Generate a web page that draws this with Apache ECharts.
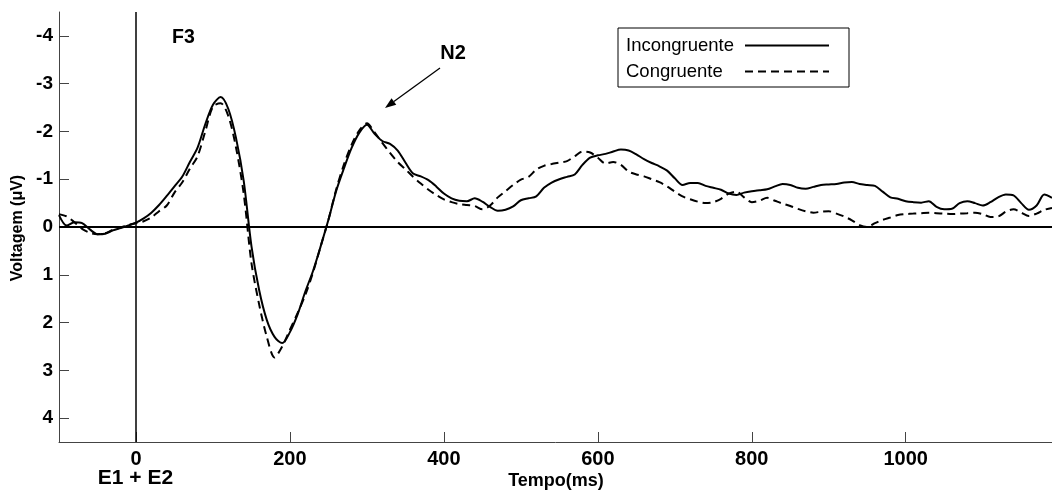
<!DOCTYPE html>
<html>
<head>
<meta charset="utf-8">
<script src="https://cdn.jsdelivr.net/npm/echarts@6/dist/echarts.min.js"></script>
<style>html,body{margin:0;padding:0;background:#fff;}#chart{width:1052px;height:495px;}</style>
</head>
<body>
<div id="chart"></div>
<script>
// Time axis (ms), sampled every 10 ms
const startMs = -100;
const stepMs = 10;
// Incongruente (solid), µV
const incongruente = [
 -0.25,-0.03,-0.10,-0.08,0.05,0.15,0.14,0.07,0.02,-0.03,
 -0.09,-0.18,-0.30,-0.46,-0.65,-0.85,-1.05,-1.36,-1.66,-2.15,
 -2.56,-2.72,-2.47,-1.86,-0.96,0.40,1.32,1.95,2.30,2.43,
 2.20,1.83,1.35,0.92,0.40,-0.15,-0.75,-1.22,-1.65,-1.97,
 -2.14,-1.95,-1.80,-1.74,-1.60,-1.35,-1.12,-1.06,-0.98,-0.85,
 -0.70,-0.60,-0.55,-0.54,-0.60,-0.53,-0.42,-0.34,-0.36,-0.43,
 -0.56,-0.60,-0.64,-0.82,-0.93,-1.00,-1.05,-1.10,-1.30,-1.45,
 -1.50,-1.53,-1.58,-1.62,-1.60,-1.52,-1.42,-1.34,-1.27,-1.18,
 -1.02,-0.88,-0.92,-0.92,-0.86,-0.82,-0.78,-0.70,-0.67,-0.72,
 -0.75,-0.77,-0.79,-0.85,-0.90,-0.88,-0.82,-0.80,-0.84,-0.88,
 -0.89,-0.90,-0.93,-0.94,-0.90,-0.88,-0.86,-0.74,-0.62,-0.59,
 -0.54,-0.52,-0.51,-0.54,-0.42,-0.37,-0.38,-0.50,-0.54,-0.50,
 -0.45,-0.52,-0.62,-0.68,-0.66,-0.50,-0.36,-0.45,-0.68,-0.61
];
// Congruente (dashed), µV
const congruente = [
 -0.27,-0.22,-0.10,0.04,0.12,0.15,0.13,0.06,0.01,-0.04,
 -0.08,-0.12,-0.20,-0.33,-0.45,-0.72,-0.93,-1.22,-1.48,-2.00,
 -2.52,-2.59,-2.32,-1.66,-0.69,0.75,1.62,2.30,2.73,2.50,
 2.15,1.80,1.42,0.95,0.40,-0.15,-0.78,-1.30,-1.72,-2.02,
 -2.17,-1.98,-1.76,-1.55,-1.36,-1.21,-1.05,-0.91,-0.78,-0.67,
 -0.58,-0.52,-0.48,-0.46,-0.44,-0.37,-0.45,-0.62,-0.75,-0.88,
 -0.99,-1.05,-1.20,-1.28,-1.32,-1.35,-1.38,-1.48,-1.58,-1.56,
 -1.45,-1.33,-1.36,-1.30,-1.16,-1.10,-1.06,-1.00,-0.94,-0.85,
 -0.74,-0.64,-0.58,-0.53,-0.50,-0.52,-0.59,-0.70,-0.74,-0.62,
 -0.52,-0.55,-0.61,-0.55,-0.49,-0.44,-0.38,-0.33,-0.30,-0.32,
 -0.33,-0.28,-0.22,-0.14,-0.04,0.00,-0.08,-0.15,-0.20,-0.25,
 -0.27,-0.28,-0.29,-0.30,-0.29,-0.28,-0.27,-0.28,-0.29,-0.30,
 -0.27,-0.21,-0.22,-0.32,-0.37,-0.30,-0.23,-0.28,-0.36,-0.40
];
const xTicks = [0, 200, 400, 600, 800, 1000];
const yTicks = [-4, -3, -2, -1, 0, 1, 2, 3, 4];
const seriesNames = ['Incongruente', 'Congruente'];

const toPairs = arr => arr.map((v, i) => [startMs + i * stepMs, v]);
const FONT = '"Liberation Sans", Arial, sans-serif';

const chart = echarts.init(document.getElementById('chart'), null, {renderer: 'canvas'});
const arrowTip = [385, 108], arrowTail = [440, 68];
const dx = arrowTip[0] - arrowTail[0], dy = arrowTip[1] - arrowTail[1];
const len = Math.hypot(dx, dy), ux = dx / len, uy = dy / len;
const hb = [arrowTip[0] - 11 * ux, arrowTip[1] - 11 * uy];
const head = [arrowTip, [hb[0] - 4 * uy, hb[1] + 4 * ux], [hb[0] + 4 * uy, hb[1] - 4 * ux]];

chart.setOption({
  animation: false,
  backgroundColor: '#fff',
  grid: {left: 59, right: 0, top: 12, bottom: 53, containLabel: false},
  legend: {
    left: 618, top: 28, orient: 'vertical', align: 'right',
    itemWidth: 84, itemHeight: 16, itemGap: 7,
    padding: [8, 19, 6, 8],
    borderColor: '#000', borderWidth: 1,
    itemStyle: {opacity: 0},
    formatter: name => '{t|' + name + '}',
    textStyle: {
      fontSize: 18.5, fontFamily: FONT, color: '#000',
      rich: {t: {width: 114, align: 'left', fontSize: 18.5, fontFamily: FONT, color: '#000', lineHeight: 16}}
    },
    data: seriesNames,
    selectedMode: false
  },
  xAxis: {
    type: 'value', min: -100, max: 1190,
    splitLine: {show: false},
    axisLine: {onZero: false, lineStyle: {color: '#444', width: 1}},
    axisTick: {inside: true, length: 10, customValues: xTicks, lineStyle: {color: '#444'}},
    axisLabel: {customValues: xTicks, formatter: v => String(v), fontSize: 20, fontWeight: 'bold', color: '#000', fontFamily: FONT, margin: 7}
  },
  yAxis: {
    type: 'value', inverse: true, min: -4.5, max: 4.5,
    splitLine: {show: false},
    axisLine: {show: true, onZero: false, lineStyle: {color: '#444', width: 1}},
    axisTick: {show: true, inside: true, length: 10, customValues: yTicks, lineStyle: {color: '#444'}},
    axisLabel: {customValues: yTicks, formatter: v => String(v), fontSize: 19, fontWeight: 'bold', color: '#000', fontFamily: FONT, margin: 6}
  },
  graphic: [
    {type: 'text', x: 18, y: 228, rotation: Math.PI / 2, style: {x: 0, y: 0, text: 'Voltagem (μV)', font: 'bold 16px ' + FONT, fill: '#000', align: 'center', verticalAlign: 'middle'}},
    {type: 'text', style: {x: 556, y: 481, text: 'Tempo(ms)', font: 'bold 18px ' + FONT, fill: '#000', align: 'center', verticalAlign: 'middle'}},
    {type: 'text', style: {x: 135.5, y: 478, text: 'E1 + E2', font: 'bold 21px ' + FONT, fill: '#000', align: 'center', verticalAlign: 'middle'}},
    {type: 'text', style: {x: 183.5, y: 38, text: 'F3', font: 'bold 19.5px ' + FONT, fill: '#000', align: 'center', verticalAlign: 'middle'}},
    {type: 'text', style: {x: 453, y: 53.5, text: 'N2', font: 'bold 20px ' + FONT, fill: '#000', align: 'center', verticalAlign: 'middle'}},
    {type: 'line', shape: {x1: arrowTail[0], y1: arrowTail[1], x2: hb[0], y2: hb[1]}, style: {stroke: '#000', lineWidth: 1.3}},
    {type: 'polygon', shape: {points: head}, style: {fill: '#000'}}
  ],
  series: [
    {
      name: seriesNames[0], type: 'line', data: toPairs(incongruente),
      showSymbol: false, symbol: 'none', smooth: 0.3,
      lineStyle: {color: '#000', width: 2, type: 'solid'},
      itemStyle: {color: '#000'},
      markLine: {
        silent: true, symbol: 'none', label: {show: false},
        lineStyle: {color: '#000', type: 'solid', width: 1.5},
        data: [{xAxis: 0}, {yAxis: 0, lineStyle: {width: 2}}]
      },
      z: 3
    },
    {
      name: seriesNames[1], type: 'line', data: toPairs(congruente),
      showSymbol: false, symbol: 'none', smooth: 0.3,
      lineStyle: {color: '#000', width: 2, type: [8, 5]},
      itemStyle: {color: '#000'},
      z: 2
    }
  ]
});
</script>
</body>
</html>
